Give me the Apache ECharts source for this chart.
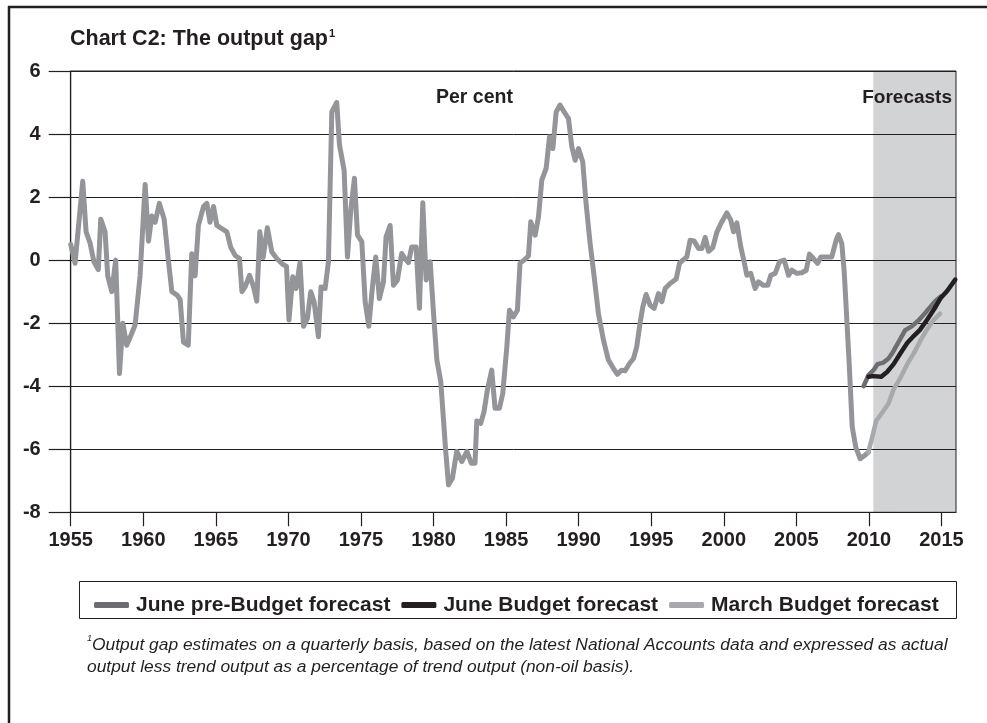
<!DOCTYPE html>
<html>
<head>
<meta charset="utf-8">
<script src="https://cdn.jsdelivr.net/npm/echarts@6/dist/echarts.min.js"></script>
<style>
html,body{margin:0;padding:0;background:#fff;}
#chart{width:987px;height:723px;}
</style>
</head>
<body>
<div id="chart"></div>
<script>
// ---- Data ----
var xTickYears = [1955,1960,1965,1970,1975,1980,1985,1990,1995,2000,2005,2010,2015];

var histYears = [
1955.0,1955.3,1955.83, 1956.06,1956.33,1956.6,1956.9, 1957.07,1957.37,1957.55,1957.83,
1958.1,1958.36,1958.59,1958.86, 1959.14,1959.44,1959.78, 1960.13,1960.36,1960.59,1960.82,
1961.11,1961.44,1961.74,1961.97, 1962.31,1962.54,1962.77, 1963.1,1963.34,1963.57,1963.8,
1964.15,1964.38,1964.6,1964.84, 1965.07,1965.41,1965.76, 1966.03,1966.33,1966.63,1966.8,
1967.02,1967.32,1967.6,1967.82, 1968.03,1968.26,1968.55,1968.86, 1969.2,1969.6,1969.87,
1970.04,1970.3,1970.53,1970.8, 1971.04,1971.31,1971.54,1971.77, 1972.07,1972.25,1972.53,1972.76,1972.99,
1973.33,1973.52,1973.84, 1974.07,1974.3,1974.55,1974.76, 1975.06,1975.29,1975.54,1975.79,
1976.02,1976.27,1976.55,1976.73, 1977.01,1977.24,1977.51,1977.81, 1978.04,1978.27,1978.5,1978.8,
1979.03,1979.26,1979.49,1979.77, 1980.0,1980.23,1980.5,1980.83, 1981.03,1981.3,1981.6,1981.95,
1982.3,1982.6,1982.86,1982.98, 1983.25,1983.48,1983.71, 1984.01,1984.24,1984.54,1984.77,
1985.05,1985.23,1985.5,1985.78,1985.96, 1986.24,1986.54,1986.7, 1987.0,1987.23,1987.46,1987.76,1987.99,
1988.22,1988.45,1988.72, 1989.0,1989.3,1989.53,1989.76,1989.99, 1990.28,1990.51,1990.79,
1991.07,1991.36,1991.71, 1992.05,1992.4,1992.67,1992.97, 1993.2,1993.5,1993.78,
1994.0,1994.23,1994.42,1994.65,1994.92, 1995.2,1995.5,1995.73,1995.96, 1996.3,1996.72,1996.95,
1997.18,1997.45,1997.68,1997.96, 1998.26,1998.49,1998.72,1998.95, 1999.24,1999.52,1999.8,
2000.21,2000.48,2000.67,2000.9, 2001.17,2001.4,2001.59,2001.86, 2002.16,2002.39,2002.73,
2003.03,2003.24,2003.54,2003.84, 2004.16,2004.46,2004.69, 2005.03,2005.38,2005.68,2005.9,
2006.18,2006.46,2006.69, 2007.05,2007.44,2007.74,2007.9, 2008.13,2008.29,2008.43,2008.64,2008.85,
2009.1,2009.4,2009.7,2009.95
];
var histValues = [
0.5,-0.1,2.5, 0.9,0.55,-0.05,-0.3, 1.3,0.9,-0.5,-1.0,
0.0,-3.6,-2.0,-2.7, -2.4,-2.05,-0.5, 2.4,0.6,1.4,1.2,
1.8,1.3,-0.05,-1.0, -1.1,-1.25,-2.6, -2.7,0.2,-0.5,1.1,
1.7,1.8,1.2,1.7, 1.1,1.0,0.9, 0.4,0.15,0.05,-1.0,
-0.85,-0.48,-0.85,-1.3, 0.9,0.08,1.03,0.26, 0.05,-0.13,-0.2,
-1.9,-0.53,-0.9,-0.08, -2.1,-1.85,-1.0,-1.32, -2.43,-0.85,-0.9,-0.05,4.7,
5.0,3.65,2.85, 0.1,1.6,2.6,0.8, 0.58,-1.32,-2.1,-0.85,
0.1,-1.22,-0.69,0.74, 1.1,-0.8,-0.63,0.21, 0.05,-0.08,0.42,0.42,
-1.53,1.82,-0.63,-0.05, -1.69,-3.17,-3.86,-6.0, -7.13,-6.92,-6.07,-6.39,
-6.07,-6.44,-6.44,-5.1, -5.18,-4.81,-4.12, -3.49,-4.7,-4.7,-4.23,
-2.75,-1.59,-1.8,-1.59,-0.1, 0.0,0.13,1.22, 0.79,1.37,2.54,2.91,3.91,
3.54,4.7,4.92, 4.7,4.49,3.59,3.17,3.54, 3.12,1.8,0.53,
-0.53,-1.69,-2.54, -3.17,-3.44,-3.62,-3.49, -3.51,-3.28,-3.12,
-2.75,-2.0,-1.48,-1.09,-1.43, -1.53,-1.06,-1.32,-0.9, -0.74,-0.6,-0.1,
0.0,0.1,0.63,0.61, 0.37,0.37,0.72,0.28, 0.4,0.88,1.16,
1.5,1.27,0.9,1.18, 0.42,-0.05,-0.48,-0.42, -0.9,-0.69,-0.8,
-0.8,-0.48,-0.42,-0.05, 0.0,-0.48,-0.32, -0.42,-0.4,-0.32,0.19,
0.05,-0.1,0.1, 0.1,0.1,0.63,0.81, 0.53,-0.32,-1.48,-3.28,-5.29,
-5.95,-6.3,-6.2,-6.1
];

var marchYears  = [2009.95,2010.18,2010.5,2010.9,2011.35,2011.7,2012.15,2012.7,2013.1,2013.55,2014.0,2014.45,2014.9];
var marchValues = [-6.1,-5.7,-5.1,-4.85,-4.55,-4.1,-3.75,-3.25,-2.95,-2.55,-2.2,-1.9,-1.7];

var junePreYears  = [2009.63,2009.97,2010.3,2010.6,2011.0,2011.35,2011.65,2012.1,2012.5,2012.95,2013.4,2013.8,2014.2,2014.57,2014.95];
var junePreValues = [-4.0,-3.65,-3.5,-3.3,-3.25,-3.12,-2.92,-2.55,-2.22,-2.1,-1.92,-1.72,-1.5,-1.3,-1.15];

var juneYears  = [2009.97,2010.3,2010.85,2011.25,2011.7,2012.15,2012.65,2013.1,2013.5,2014.0,2014.5,2014.95,2015.4,2015.95];
var juneValues = [-3.7,-3.68,-3.7,-3.55,-3.3,-2.97,-2.62,-2.4,-2.22,-1.9,-1.55,-1.2,-0.97,-0.62];

var forecastStart = 2010.3;
var axisStart = 1955;
var axisEnd = 2016;

var seriesNames = ['June pre-Budget forecast','June Budget forecast','March Budget forecast'];

// ---- helpers ----
function pairs(xs, ys){ var out=[]; for (var i=0;i<Math.min(xs.length,ys.length);i++) out.push([xs[i],ys[i]]); return out; }

var INK = '#231f20';
var SANS = "'Liberation Sans',Arial,sans-serif";

var chart = echarts.init(document.getElementById('chart'), null, {renderer:'canvas'});

var option = {
  animation: false,
  backgroundColor: '#ffffff',
  grid: { left: 70.7, right: 31, top: 71, bottom: 210.7, containLabel: false, outerBoundsMode: 'none',
          show: true, borderColor: INK, borderWidth: 1, backgroundColor: 'transparent' },
  xAxis: {
    type: 'value', min: axisStart, max: axisEnd, interval: 5,
    axisLine: { show: true, onZero: false, lineStyle: { color: INK, width: 1 } },
    axisTick: { show: true, inside: false, length: 14, lineStyle: { color: INK, width: 1.2 }, customValues: xTickYears },
    axisLabel: { show: true, margin: 18, color: INK, fontFamily: SANS, fontWeight: 'bold', fontSize: 20,
                 customValues: xTickYears, formatter: function(v){ return String(v); } },
    splitLine: { show: false }
  },
  yAxis: {
    type: 'value', min: -8, max: 6, interval: 2,
    axisLine: { show: true, lineStyle: { color: INK, width: 1.2 } },
    axisTick: { show: true, inside: false, length: 22, lineStyle: { color: INK, width: 1.2 } },
    axisLabel: { margin: 30, color: INK, fontFamily: SANS, fontWeight: 'bold', fontSize: 20 },
    splitLine: { show: true, lineStyle: { color: INK, width: 1 } }
  },
  legend: {
    show: true, left: 89, top: 587, orient: 'horizontal',
    data: seriesNames, icon: 'roundRect', itemWidth: 35, itemHeight: 6, itemGap: 11,
    textStyle: { color: INK, fontFamily: SANS, fontWeight: 'bold', fontSize: 21, lineHeight: 26, padding: [0,0,0,2] },
    selectedMode: false
  },
  series: [
    {
      name: 'Outturn', type: 'line', data: pairs(histYears, histValues), showSymbol: false, symbol: 'none',
      lineStyle: { color: '#939598', width: 5, join: 'round', cap: 'round' }, itemStyle: { color: '#939598' },
      z: 2,
      markArea: {
        silent: true, z: -1,
        itemStyle: { color: '#d1d3d4' },
        data: [[ { xAxis: forecastStart }, { xAxis: axisEnd } ]]
      }
    },
    {
      name: 'March Budget forecast', type: 'line', data: pairs(marchYears, marchValues), showSymbol: false, symbol: 'none',
      lineStyle: { color: '#a7a9ac', width: 4.5, join: 'round', cap: 'round' }, itemStyle: { color: '#a7a9ac' }, z: 3
    },
    {
      name: 'June pre-Budget forecast', type: 'line', data: pairs(junePreYears, junePreValues), showSymbol: false, symbol: 'none',
      lineStyle: { color: '#6d6e71', width: 4.5, join: 'round', cap: 'round' }, itemStyle: { color: '#6d6e71' }, z: 4
    },
    {
      name: 'June Budget forecast', type: 'line', data: pairs(juneYears, juneValues), showSymbol: false, symbol: 'none',
      lineStyle: { color: INK, width: 4.5, join: 'round', cap: 'round' }, itemStyle: { color: INK }, z: 5
    }
  ],
  graphic: [
    // outer frame
    { type: 'line', shape: { x1: 8, y1: 7, x2: 987, y2: 7 }, style: { stroke: INK, lineWidth: 2.5 }, silent: true },
    { type: 'line', shape: { x1: 9, y1: 6, x2: 9, y2: 723 }, style: { stroke: INK, lineWidth: 2.5 }, silent: true },
    // title
    { type: 'text', left: 70, top: 28, silent: true,
      style: { text: '{t|Chart C2: The output gap}{s|1}',
               rich: { t: { fontFamily: SANS, fontWeight: 'bold', fontSize: 21.5, fill: INK },
                       s: { fontFamily: SANS, fontWeight: 'bold', fontSize: 11, fill: INK, verticalAlign: 'top', padding: [0,0,0,1] } } } },
    // in-plot labels
    { type: 'text', silent: true, z: 10,
      style: { x: 436, y: 98, text: 'Per cent', font: "bold 19.5px " + SANS, fill: INK, align: 'left', verticalAlign: 'middle' } },
    { type: 'text', silent: true, z: 10,
      style: { x: 952, y: 98, text: 'Forecasts', font: "bold 19px " + SANS, fill: INK, align: 'right', verticalAlign: 'middle' } },
    // legend box
    { type: 'rect', silent: true, shape: { x: 79.5, y: 581.5, width: 877, height: 37 },
      style: { fill: 'transparent', stroke: INK, lineWidth: 1 } },
    // footnote
    { type: 'text', left: 87, top: 634, silent: true,
      style: { text: '{s|1}{i|Output gap estimates on a quarterly basis, based on the latest National Accounts data and expressed as actual}\n{i|output less trend output as a percentage of trend output (non-oil basis).}',
               rich: { i: { fontFamily: SANS, fontStyle: 'italic', fontSize: 17.4, fill: INK, lineHeight: 22 },
                       s: { fontFamily: SANS, fontStyle: 'italic', fontSize: 9, fill: INK, verticalAlign: 'top', lineHeight: 22 } } } }
  ]
};

chart.setOption(option);
</script>
</body>
</html>
